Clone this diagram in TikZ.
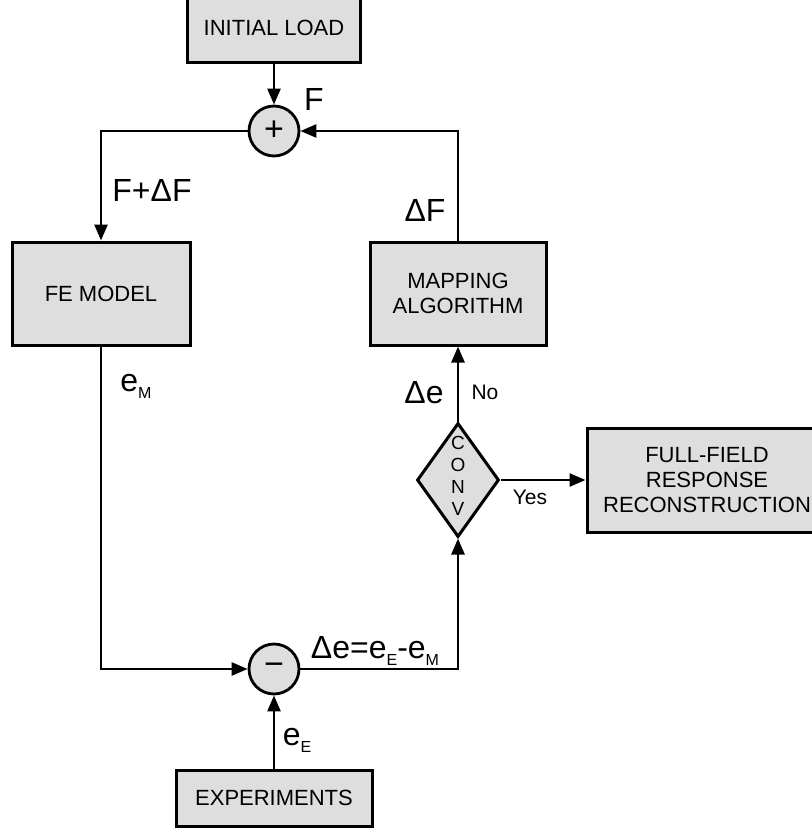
\documentclass[tikz,border=0pt]{standalone}
\usepackage{fontspec}
\setmainfont{Liberation Sans}
\usetikzlibrary{arrows.meta,shapes.geometric}
\definecolor{boxgray}{HTML}{DEDEDE}
\newcommand{\subtxt}[1]{\raisebox{-3.5pt}{\fontsize{8}{8}\selectfont #1}}

\begin{document}
\begin{tikzpicture}[x=0.5pt,y=-0.5pt,
  block/.style={draw,line width=1.5pt,fill=boxgray,align=center,inner sep=0pt,
    font=\fontsize{11}{12.5}\selectfont},
  junction/.style={draw,circle,line width=1.4pt,fill=boxgray,minimum size=25pt,
    inner sep=0pt,font=\fontsize{17}{17}\selectfont},
  sig/.style={inner sep=0pt,font=\fontsize{16}{18}\selectfont},
  note/.style={inner sep=0pt,font=\fontsize{10.5}{12}\selectfont},
  flow/.style={line width=1.3pt,-{Triangle[length=8pt,width=6.5pt]}}]
  \useasboundingbox (0,0) rectangle (811,830);
  % blocks
  \node[block,minimum width=86.5pt,minimum height=34pt] (load) at (274,28) {INITIAL LOAD};
  \node[junction] (plus) at (274,131) {+};
  \node[block,minimum width=89pt,minimum height=51.5pt] (fem) at (101,293.5) {FE MODEL};
  \node[block,minimum width=88pt,minimum height=51.5pt] (map) at (458,293.5) {MAPPING\\ALGORITHM};
  \node[diamond,draw,line width=1.5pt,fill=boxgray,minimum width=41pt,minimum height=57pt,
    inner sep=0pt,font=\fontsize{9.5}{11}\selectfont] (conv) at (458,480)
    {\raisebox{-2.2pt}{\smash{\begin{tabular}{@{}c@{}}C\\O\\N\\V\end{tabular}}}};
  \node[block,minimum width=120pt,minimum height=52pt] (recon) at (707,480)
    {FULL-FIELD\\RESPONSE\\RECONSTRUCTION};
  \node[junction] (minus) at (274,669) {−};
  \node[block,minimum width=98pt,minimum height=28pt] (exp) at (274,798) {EXPERIMENTS};
  % connectors
  \draw[flow] (load) -- (plus);
  \draw[flow] (plus.west) -| (fem.north);
  \draw[flow] (map.north) |- (plus.east);
  \draw[flow] (fem.south) |- (minus.west);
  \draw[flow] (exp) -- (minus);
  \draw[flow] (minus.east) -| (conv.south);
  \draw[flow] (conv) -- (map);
  \draw[flow] (conv) -- (recon);
  % signals
  \node[sig] (fsum) at (314,99) {F};
  \node[sig] (fnew) at (152,190) {F+ΔF};
  \node[sig] (dforce) at (425,210) {ΔF};
  \node[sig] (em) at (136,386) {e\subtxt{M}};
  \node[sig] (derr) at (424,393) {Δe};
  \node[sig] (diff) at (375,651) {Δe=e\subtxt{E}-e\subtxt{M}};
  \node[sig] (ee) at (297,740) {e\subtxt{E}};
  \node[note] (no) at (485,392) {No};
  \node[note] (yes) at (530,497) {Yes};
\end{tikzpicture}
\end{document}
